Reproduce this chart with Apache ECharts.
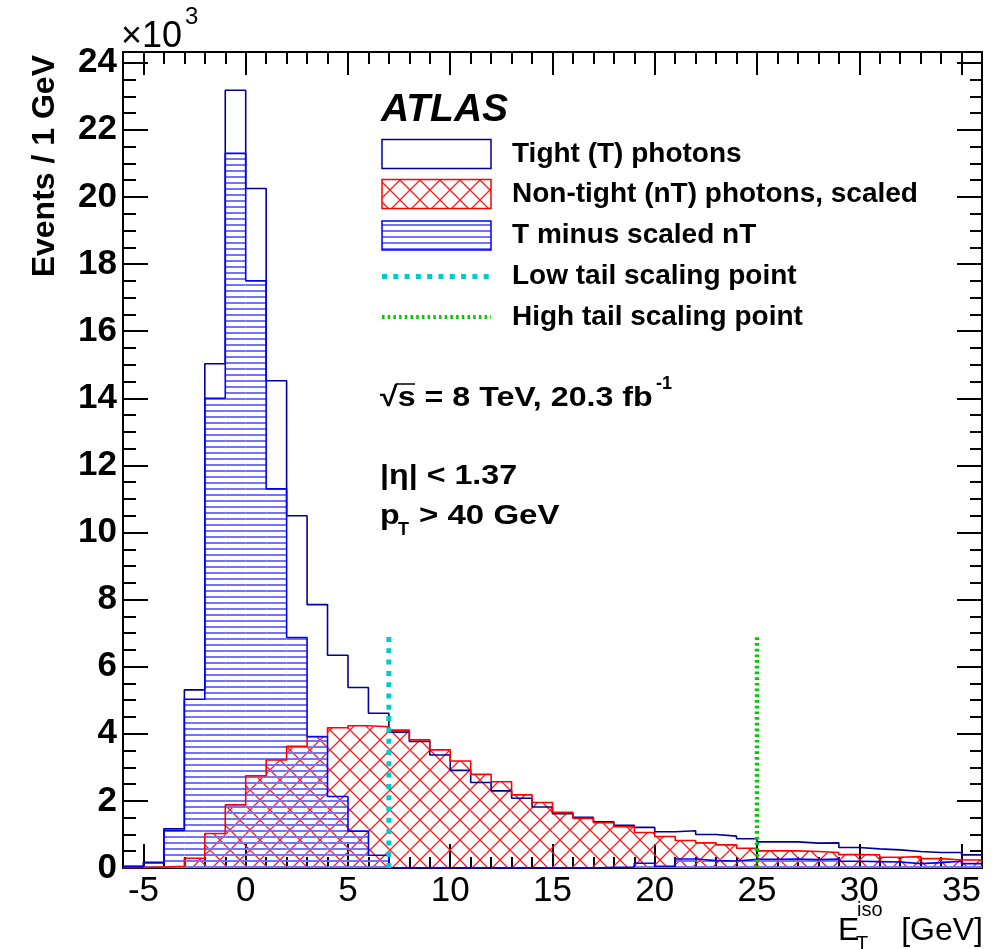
<!DOCTYPE html>
<html>
<head>
<meta charset="utf-8">
<script src="https://cdn.jsdelivr.net/npm/echarts@6/dist/echarts.min.js"></script>
<style>
html,body{margin:0;padding:0;background:#fff;}
#chart{width:1000px;height:949px;}
</style>
</head>
<body>
<div id="chart"></div>
<script>
// ---------------- data (values in units of 10^3 events / 1 GeV) ----------------
const binEdges = [-6,-5,-4,-3,-2,-1,0,1,2,3,4,5,6,7,8,9,10,11,12,13,14,15,16,17,18,19,20,21,22,23,24,25,26,27,28,29,30,31,32,33,34,35,36];
const tightT = [0.05,0.17,1.17,5.31,15.03,23.18,20.25,14.52,10.50,7.85,6.34,5.38,4.61,4.05,3.77,3.37,2.91,2.55,2.30,2.08,1.82,1.62,1.51,1.38,1.27,1.21,1.08,1.11,1.00,0.95,0.87,0.78,0.78,0.74,0.75,0.61,0.57,0.54,0.49,0.46,0.46,0.39];
const nonTightScaled = [0.01,0.03,0.05,0.29,1.03,1.88,2.75,3.22,3.63,3.92,4.18,4.24,4.21,4.11,3.82,3.52,3.19,2.79,2.57,2.18,1.95,1.66,1.48,1.35,1.23,1.06,0.94,0.82,0.75,0.69,0.59,0.51,0.51,0.49,0.46,0.40,0.39,0.32,0.34,0.28,0.24,0.24];
const tMinusNT = [0.04,0.15,1.12,5.03,14.00,21.30,17.50,11.30,6.87,3.91,2.13,1.10,0.38,0,0,0,0,0,0,0,0,0,0,0.02,0.03,0.14,0.05,0.27,0.22,0.21,0.26,0.26,0.27,0.25,0.27,0.20,0.19,0.18,0.13,0.16,0.20,0.13];
const xTickLabels = [-5,0,5,10,15,20,25,30,35];
const yTickLabels = [0,2,4,6,8,10,12,14,16,18,20,22,24];
const lowTailPoint = 7;
const highTailPoint = 25;
const scalingMarkerTop = 6.9;
const legendLabels = ['Tight (T) photons','Non-tight (nT) photons, scaled','T minus scaled nT','Low tail scaling point','High tail scaling point'];

// ---------------- helpers ----------------
const FONT = '"Liberation Sans", Arial, Helvetica, sans-serif';
const X_MIN = -6, X_MAX = 36, Y_MIN = 0, Y_MAX = 24.32;

function crossPattern(){
  const s = 20;
  const c = document.createElement('canvas'); c.width = s; c.height = s;
  const g = c.getContext('2d');
  g.strokeStyle = '#ff1a1a'; g.lineWidth = 1.3;
  g.beginPath();
  [-s,0,s].forEach(k=>{
    g.moveTo(k,0); g.lineTo(k+s,s);
    g.moveTo(k+s,0); g.lineTo(k,s);
  });
  g.stroke();
  return {image:c, repeat:'repeat'};
}
function hlinePattern(){
  const c = document.createElement('canvas'); c.width = 8; c.height = 6;
  const g = c.getContext('2d');
  g.fillStyle = '#7373ff';
  g.fillRect(0,2,8,2);
  return {image:c, repeat:'repeat'};
}
const redHatch = crossPattern();
const blueHatch = hlinePattern();

function binData(vals){ return vals.map((v,i)=>[binEdges[i], binEdges[i+1], v]); }
function stepData(vals){
  const d = vals.map((v,i)=>[binEdges[i], v]);
  d.push([binEdges[binEdges.length-1], vals[vals.length-1]]);
  return d;
}
function fillSeries(name, vals, pattern){
  return {
    type:'custom', name, xAxisIndex:0, yAxisIndex:0, silent:true,
    encode:{x:[0,1], y:2},
    data: binData(vals),
    renderItem(params, api){
      const p0 = api.coord([api.value(0), api.value(2)]);
      const p1 = api.coord([api.value(1), 0]);
      return {type:'rect', shape:{x:p0[0], y:p0[1], width:p1[0]-p0[0], height:p1[1]-p0[1]},
              style:{fill:pattern, stroke:null}};
    }
  };
}
function outlineSeries(name, vals, color, w){
  return {type:'line', name, xAxisIndex:0, yAxisIndex:0, step:'end', symbol:'none', silent:true,
          data: stepData(vals), lineStyle:{color, width:w}, z:3};
}
function vline(name, x, color, w, dash){
  return {type:'line', name, xAxisIndex:0, yAxisIndex:0, symbol:'none', silent:true, z:4,
          data:[[x,0],[x,scalingMarkerTop]], lineStyle:{color, width:w, type:dash, cap:'butt'}};
}

const xMinor = []; for(let v=X_MIN; v<=X_MAX; v+=1) xMinor.push(v);
const yMinor = []; for(let v=0; v<=24; v+=0.5) yMinor.push(v);

const tickStyle = {color:'#000', width:2};
function xAx(pos, values, len, labels){
  return {type:'value', min:X_MIN, max:X_MAX, position:pos, gridIndex:0,
    axisLine:{show:true, onZero:false, lineStyle:{color:'#000', width:2}},
    axisTick:{show:true, inside:true, length:len, customValues:values, lineStyle:tickStyle},
    axisLabel: labels ? {show:true, customValues:xTickLabels, fontFamily:FONT, fontSize:35, color:'#000', margin:6} : {show:false},
    splitLine:{show:false}, minorTick:{show:false}};
}
function yAx(pos, values, len, labels){
  return {type:'value', min:Y_MIN, max:Y_MAX, position:pos, gridIndex:0,
    axisLine:{show:true, onZero:false, lineStyle:{color:'#000', width:2}},
    axisTick:{show:true, inside:true, length:len, customValues:values, lineStyle:tickStyle},
    axisLabel: labels ? {show:true, customValues:yTickLabels, fontFamily:FONT, fontSize:35, fontWeight:'bold', color:'#000', margin:6} : {show:false},
    splitLine:{show:false}, minorTick:{show:false}};
}

const chart = echarts.init(document.getElementById('chart'), null, {renderer:'canvas'});

const legendRows = [154, 194, 235.5, 276.5, 317];
const LX = 382, LW = 109, LH = 29;
const SX = 1.15; // horizontal stretch of the annotation texts
const graphics = [
  {type:'text', x:381, y:110, style:{text:'ATLAS', font:'italic bold 39px '+FONT, fill:'#000', textVerticalAlign:'middle'}},
  {type:'rect', shape:{x:LX, y:legendRows[0]-LH/2, width:LW, height:LH}, style:{fill:'#fff', stroke:'#000099', lineWidth:1.5}},
  {type:'rect', shape:{x:LX, y:legendRows[1]-LH/2, width:LW, height:LH}, style:{fill:redHatch, stroke:'#ff0000', lineWidth:1.5}},
  {type:'rect', shape:{x:LX, y:legendRows[2]-LH/2, width:LW, height:LH}, style:{fill:blueHatch, stroke:'#0000ff', lineWidth:1.5}},
  {type:'line', shape:{x1:LX, y1:legendRows[3], x2:LX+LW, y2:legendRows[3]}, style:{stroke:'#00cccc', lineWidth:5, lineDash:[5,6.3]}},
  {type:'line', shape:{x1:LX, y1:legendRows[4], x2:LX+LW, y2:legendRows[4]}, style:{stroke:'#00cc00', lineWidth:4, lineDash:[2.5,3.2]}},
  // y-axis scale factor
  {type:'text', x:121, y:37, style:{text:'×10', font:'36px '+FONT, fill:'#000', textVerticalAlign:'middle'}},
  {type:'text', x:185, y:17, style:{text:'3', font:'24px '+FONT, fill:'#000', textVerticalAlign:'middle'}},
  // y-axis title
  {type:'text', x:45, y:55, rotation:Math.PI/2, style:{text:'Events / 1 GeV', font:'bold 32px '+FONT, fill:'#000', textAlign:'right', textVerticalAlign:'middle'}},
  // x-axis title
  {type:'text', x:838, y:931, style:{text:'E', font:'32px '+FONT, fill:'#000', textVerticalAlign:'middle'}},
  {type:'text', x:857, y:910, style:{text:'iso', font:'20px '+FONT, fill:'#000', textVerticalAlign:'middle'}},
  {type:'text', x:856, y:944, style:{text:'T', font:'20px '+FONT, fill:'#000', textVerticalAlign:'middle'}},
  {type:'text', x:983, y:931, style:{text:'[GeV]', font:'32px '+FONT, fill:'#000', textAlign:'right', textVerticalAlign:'middle'}},
  // annotations
  {type:'text', x:380, y:398, scaleX:SX, style:{text:'\u221As = 8 TeV, 20.3 fb', font:'bold 28px '+FONT, fill:'#000', textVerticalAlign:'middle'}},
  {type:'line', shape:{x1:396, y1:384, x2:415, y2:384}, style:{stroke:'#000', lineWidth:1.5}},
  {type:'text', x:656, y:384, style:{text:'-1', font:'bold 18px '+FONT, fill:'#000', textVerticalAlign:'middle'}},
  {type:'text', x:380, y:476, scaleX:SX, style:{text:'|\u03B7| < 1.37', font:'bold 28px '+FONT, fill:'#000', textVerticalAlign:'middle'}},
  {type:'text', x:380, y:516, scaleX:SX, style:{text:'p', font:'bold 28px '+FONT, fill:'#000', textVerticalAlign:'middle'}},
  {type:'text', x:398, y:530, style:{text:'T', font:'bold 18px '+FONT, fill:'#000', textVerticalAlign:'middle'}},
  {type:'text', x:419, y:516, scaleX:1.18, style:{text:'> 40 GeV', font:'bold 28px '+FONT, fill:'#000', textVerticalAlign:'middle'}}
];
legendLabels.forEach((t,i)=>{
  graphics.push({type:'text', x:512, y:legendRows[i], style:{text:t, font:'bold 28px '+FONT, fill:'#000', textVerticalAlign:'middle'}});
});

chart.setOption({
  animation:false,
  backgroundColor:'#fff',
  grid:{left:123, top:52, right:18, bottom:81, show:true, borderColor:'#000', borderWidth:2, backgroundColor:'transparent'},
  xAxis:[
    xAx('bottom', xTickLabels, 24, true),
    xAx('bottom', xMinor, 11, false),
    xAx('top', xTickLabels, 23, false),
    xAx('top', xMinor, 12, false)
  ],
  yAxis:[
    yAx('left', yTickLabels, 25, true),
    yAx('left', yMinor, 13, false),
    yAx('right', yTickLabels, 25, false),
    yAx('right', yMinor, 12, false)
  ],
  series:[
    fillSeries('Non-tight (nT) photons, scaled', nonTightScaled, redHatch),
    fillSeries('T minus scaled nT', tMinusNT, blueHatch),
    outlineSeries('Tight (T) photons', tightT, '#000099', 1.6),
    outlineSeries('Non-tight outline', nonTightScaled, '#ff0000', 1.6),
    outlineSeries('T minus nT outline', tMinusNT, '#0000ff', 1.6),
    vline('Low tail scaling point', lowTailPoint, '#00cccc', 5, [5,6.3]),
    vline('High tail scaling point', highTailPoint, '#00cc00', 4.5, [2.7,3])
  ],
  graphic: graphics
});
</script>
</body>
</html>
